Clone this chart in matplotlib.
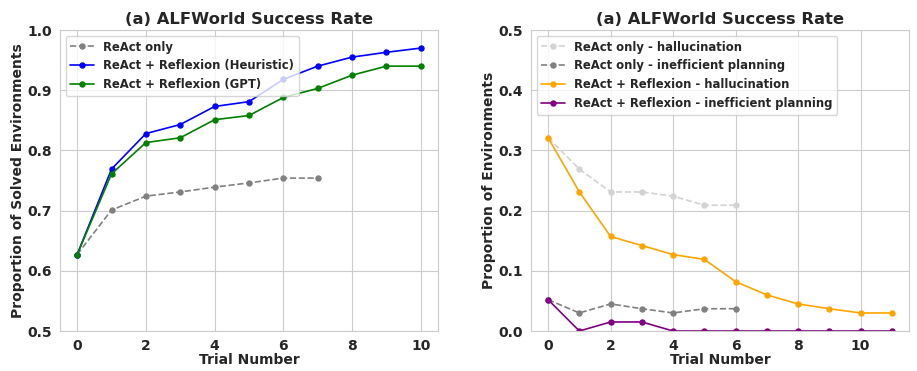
import matplotlib
matplotlib.use("Agg")
from matplotlib import pyplot as plt
import seaborn as sns

sns.set_style("whitegrid")
plt.rcParams['font.family'] = ['DejaVu Sans']
plt.rcParams['font.weight'] = 'bold'
plt.rcParams['axes.labelweight'] = 'bold'
plt.rcParams['axes.titleweight'] = 'bold'

# success rate (left)
react_only = [0.627, 0.701, 0.724, 0.731, 0.739, 0.746, 0.754, 0.754]
reflexion_heuristic = [0.627, 0.769, 0.828, 0.843, 0.873, 0.881, 0.918, 0.940, 0.955, 0.963, 0.970]
reflexion_gpt = [0.627, 0.761, 0.813, 0.821, 0.851, 0.858, 0.888, 0.903, 0.925, 0.940, 0.940]

# failure modes (right)
react_halluc = [0.321, 0.269, 0.231, 0.231, 0.224, 0.209, 0.209]
react_ineff = [0.052, 0.030, 0.045, 0.037, 0.030, 0.037, 0.037]
reflexion_halluc = [0.321, 0.231, 0.157, 0.142, 0.127, 0.119, 0.082, 0.060, 0.045, 0.037, 0.030, 0.030]
reflexion_ineff = [0.052, 0.0, 0.015, 0.015, 0.0, 0.0, 0.0, 0.0, 0.0, 0.0, 0.0, 0.0]

title = "(a) ALFWorld Success Rate"

fig = plt.figure(figsize=(9.17, 3.71), dpi=100)
ax1 = fig.add_axes([0.0654, 0.1078, 0.4123, 0.8113])
ax2 = fig.add_axes([0.579, 0.1078, 0.4123, 0.8113])

ms = 3.6
lw = 1.2

ax1.plot(range(len(react_only)), react_only, '--o', color='gray', ms=ms, lw=lw, label='ReAct only')
ax1.plot(range(len(reflexion_heuristic)), reflexion_heuristic, '-o', color='blue', ms=ms, lw=lw,
         label='ReAct + Reflexion (Heuristic)')
ax1.plot(range(len(reflexion_gpt)), reflexion_gpt, '-o', color='green', ms=ms, lw=lw,
         label='ReAct + Reflexion (GPT)')
ax1.set_ylim(0.5, 1.0)
ax1.set_title(title, fontsize=11.8, pad=4)
ax1.set_xlabel("Trial Number", fontsize=10, labelpad=0)
ax1.set_ylabel("Proportion of Solved Environments", fontsize=10, labelpad=2)
ax1.legend(loc='upper left', prop={'weight': 'bold', 'size': 8.4})

ax2.plot(range(len(react_halluc)), react_halluc, '--o', color='lightgray', ms=ms, lw=lw,
         label='ReAct only - hallucination')
ax2.plot(range(len(react_ineff)), react_ineff, '--o', color='gray', ms=ms, lw=lw,
         label='ReAct only - inefficient planning')
ax2.plot(range(len(reflexion_halluc)), reflexion_halluc, '-o', color='orange', ms=ms, lw=lw,
         label='ReAct + Reflexion - hallucination')
ax2.plot(range(len(reflexion_ineff)), reflexion_ineff, '-o', color='purple', ms=ms, lw=lw,
         label='ReAct + Reflexion - inefficient planning')
ax2.set_ylim(0.0, 0.5)
ax2.set_title(title, fontsize=11.8, pad=4)
ax2.set_xlabel("Trial Number", fontsize=10, labelpad=0)
ax2.set_ylabel("Proportion of Environments", fontsize=10, labelpad=2)
ax2.legend(loc='upper left', prop={'weight': 'bold', 'size': 8.4})

for ax in (ax1, ax2):
    ax.tick_params(labelsize=10, pad=2)
    for lbl in ax.get_xticklabels() + ax.get_yticklabels():
        lbl.set_fontweight('bold')

fig.savefig("out.png", dpi=100)
